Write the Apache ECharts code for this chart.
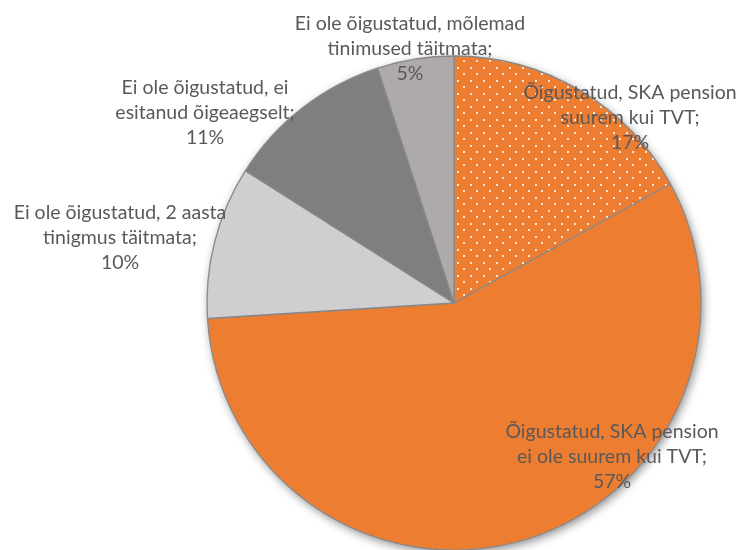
<!DOCTYPE html>
<html>
<head>
<meta charset="utf-8">
<script src="https://cdn.jsdelivr.net/npm/echarts@6/dist/echarts.min.js"></script>
<style>
html,body{margin:0;padding:0;background:#fff;}
#c{width:739px;height:550px;}
</style>
</head>
<body>
<div id="c"></div>
<script>
// ---- data ----
var categories = [
  "Õigustatud, SKA pension\nsuurem kui TVT",
  "Õigustatud, SKA pension\nei ole suurem kui TVT",
  "Ei ole õigustatud, 2 aasta\ntinigmus täitmata",
  "Ei ole õigustatud, ei\nesitanud õigeaegselt",
  "Ei ole õigustatud, mõlemad\ntinimused täitmata"
];
var values = [17, 57, 10, 11, 5];

// ---- styling / layout ----
var sliceColors = ['#ED7D31', '#ED7D31', '#D0CECE', '#7F7F7F', '#AEAAAA'];
var labelPos = [[630, 118], [612, 457], [120, 238], [205, 113], [410, 49]];

// dotted pattern for first slice
var tile = document.createElement('canvas');
tile.width = 13; tile.height = 13;
var tc = tile.getContext('2d');
tc.fillStyle = '#ED7D31';
tc.fillRect(0, 0, 13, 13);
tc.fillStyle = 'rgba(255,255,255,0.8)';
tc.fillRect(2, 2, 2, 2);
tc.fillRect(8, 8, 2, 2);

var chart = echarts.init(document.getElementById('c'), null, {renderer: 'canvas'});
var total = values.reduce(function(a, b){ return a + b; }, 0);

var data = categories.map(function(n, i){
  return {
    name: n,
    value: values[i],
    itemStyle: { color: i === 0 ? { image: tile, repeat: 'repeat' } : sliceColors[i] }
  };
});

chart.setOption({
  animation: false,
  series: [
    {
      type: 'pie',
      silent: true,
      center: [454, 303],
      radius: 247,
      z: 1,
      label: { show: false },
      labelLine: { show: false },
      data: [{ value: total, itemStyle: {
        color: '#ffffff',
        shadowBlur: 10, shadowOffsetX: 2, shadowOffsetY: 3,
        shadowColor: 'rgba(0,0,0,0.45)'
      } }]
    },
    {
      type: 'pie',
      center: [454, 303],
      radius: 247,
      startAngle: 90,
      clockwise: true,
      z: 2,
      itemStyle: { borderColor: '#888888', borderWidth: 1.3 },
      data: data,
      label: {
        show: true,
        position: 'inside',
        formatter: function(p){ return p.name + ';\n' + p.value + '%'; },
        fontFamily: 'Lato',
        fontSize: 19.5,
        lineHeight: 25,
        color: '#595959',
        align: 'center'
      },
      labelLine: { show: false },
      labelLayout: function(params){
        var pos = labelPos[params.dataIndex];
        return { x: pos[0], y: pos[1], align: 'center', verticalAlign: 'middle' };
      }
    }
  ]
});
</script>
</body>
</html>
